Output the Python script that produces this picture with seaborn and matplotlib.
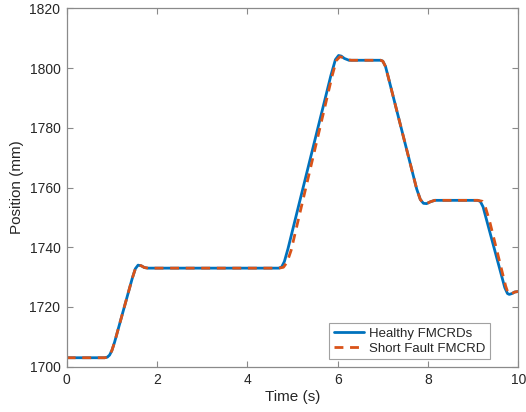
import numpy as np
import pandas as pd
import matplotlib
matplotlib.use("Agg")
import matplotlib.pyplot as plt
import seaborn as sns

# Healthy FMCRDs (time s, position mm)
time_healthy = [0.0, 0.84, 0.90, 0.95, 1.00, 1.06, 1.45, 1.52, 1.58, 1.65, 1.72, 1.80,
                4.70, 4.76, 4.82, 4.90, 5.85, 5.95, 6.02, 6.08, 6.15, 6.25,
                6.95, 7.00, 7.06, 7.12, 7.75, 7.83, 7.90, 7.97, 8.05, 8.15,
                9.10, 9.16, 9.22, 9.30, 9.70, 9.76, 9.80, 9.86, 9.92, 10.0]
pos_healthy = [1703.0, 1703.0, 1703.2, 1703.9, 1705.4, 1708.2, 1729.5, 1732.8, 1734.0, 1733.8, 1733.2, 1733.0,
               1733.0, 1733.4, 1735.2, 1739.5, 1797.5, 1802.8, 1804.2, 1804.0, 1803.2, 1802.6,
               1802.6, 1802.3, 1800.5, 1797.0, 1759.5, 1756.0, 1754.7, 1754.6, 1755.2, 1755.7,
               1755.7, 1755.3, 1753.5, 1749.0, 1726.5, 1724.5, 1724.2, 1724.5, 1725.0, 1725.2]

# Short Fault FMCRD
time_fault = [0.0, 0.84, 0.90, 0.95, 1.00, 1.06, 1.45, 1.52, 1.58, 1.65, 1.72, 1.80,
              4.70, 4.80, 4.88, 4.97, 5.88, 5.97, 6.05, 6.12, 6.20, 6.30,
              6.95, 7.00, 7.06, 7.12, 7.75, 7.83, 7.90, 7.97, 8.05, 8.15,
              9.10, 9.20, 9.27, 9.36, 9.72, 9.77, 9.81, 9.86, 9.92, 10.0]
pos_fault = [1703.0, 1703.0, 1703.2, 1703.9, 1705.4, 1708.2, 1729.5, 1732.8, 1734.0, 1733.8, 1733.2, 1733.0,
             1733.0, 1733.3, 1735.0, 1739.0, 1797.5, 1802.5, 1803.8, 1803.5, 1802.9, 1802.6,
             1802.6, 1802.3, 1800.5, 1797.0, 1759.5, 1756.0, 1754.7, 1754.6, 1755.2, 1755.7,
             1755.7, 1755.4, 1753.5, 1749.0, 1727.0, 1724.8, 1724.2, 1724.5, 1725.0, 1725.2]

x_ticks = [0, 2, 4, 6, 8, 10]
y_ticks = [1700, 1720, 1740, 1760, 1780, 1800, 1820]

sns.set_style("white")
plt.rcParams['font.family'] = ['Liberation Sans', 'DejaVu Sans']

df_h = pd.DataFrame({"t": time_healthy, "p": pos_healthy})
df_f = pd.DataFrame({"t": time_fault, "p": pos_fault})

fig = plt.figure(figsize=(5.26, 4.12), dpi=100)
ax = fig.add_axes([66.7/526, 1 - 366.7/412, (518.3-66.7)/526, (366.7-8.3)/412])

DASH = (3.2, 2.4)
sns.lineplot(data=df_h, x="t", y="p", ax=ax, color="#0072BD", lw=2.0,
             label="Healthy FMCRDs", sort=False)
sns.lineplot(data=df_f, x="t", y="p", ax=ax, color="#D95319", lw=2.0,
             dashes=False, label="Short Fault FMCRD", sort=False)
ax.lines[1].set_dashes(DASH)

ax.set_xlim(0, 10)
ax.set_ylim(1700, 1820)
ax.set_xticks(x_ticks)
ax.set_yticks(y_ticks)
ax.set_xlabel("Time (s)", fontsize=11, color="#262626", labelpad=2)
ax.set_ylabel("Position (mm)", fontsize=11, color="#262626", labelpad=4)
ax.tick_params(direction="in", length=4.5, width=0.8, color="#8a8a8a",
               labelcolor="#262626", labelsize=10, pad=4.5,
               top=True, right=True, bottom=True, left=True,
               labeltop=False, labelright=False)
for s in ax.spines.values():
    s.set_visible(True)
    s.set_color("#8a8a8a")
    s.set_linewidth(0.9)

leg = ax.legend(loc="lower right", bbox_to_anchor=(0.9365, 0.021), borderaxespad=0,
                fontsize=9.5, frameon=True, fancybox=False, edgecolor="#8a8a8a",
                handlelength=2.3, borderpad=0.35, labelspacing=0.2, handletextpad=0.35)
leg.get_frame().set_linewidth(0.8)
leg.get_lines()[1].set_dashes(DASH)

fig.savefig("out.png", dpi=100)
